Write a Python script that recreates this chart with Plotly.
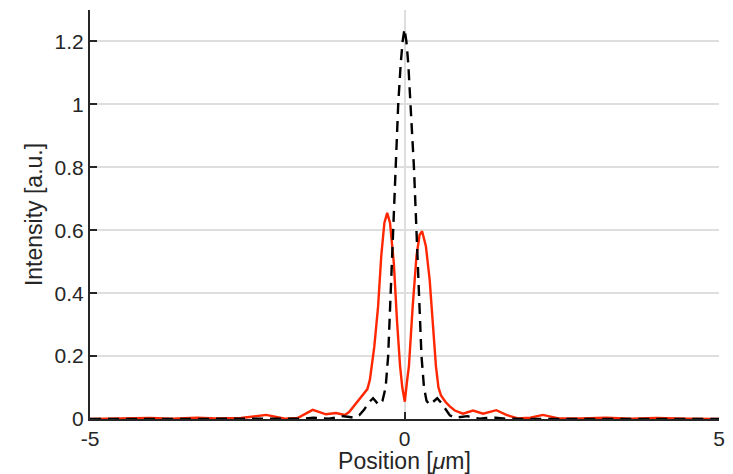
import plotly.graph_objects as go

# Red curve (solid)
red_x = [-5.0, -4.5, -4.05, -3.7, -3.3, -3.0, -2.6, -2.2, -1.9, -1.7, -1.55, -1.46, -1.35, -1.25,
         -1.09, -0.95, -0.88, -0.80, -0.72, -0.64, -0.59, -0.55, -0.52, -0.48, -0.42, -0.37, -0.32,
         -0.275, -0.23, -0.17, -0.12, -0.07, -0.035, 0.005, 0.04, 0.07, 0.13, 0.19, 0.24, 0.28, 0.34,
         0.40, 0.45, 0.50, 0.54, 0.58, 0.65, 0.72, 0.80, 0.93, 1.09, 1.25, 1.46, 1.62, 1.80, 2.0,
         2.2, 2.45, 2.8, 3.2, 3.6, 4.0, 4.5, 5.0]
red_y = [0.0, 0.001, 0.003, 0.001, 0.004, 0.002, 0.003, 0.013, 0.001, 0.003, 0.02, 0.029, 0.022, 0.015,
         0.019, 0.013, 0.022, 0.042, 0.065, 0.082, 0.095, 0.125, 0.17, 0.23, 0.357, 0.517, 0.623,
         0.655, 0.623, 0.496, 0.315, 0.167, 0.10, 0.055, 0.12, 0.167, 0.357, 0.517, 0.585, 0.597, 0.549,
         0.443, 0.305, 0.167, 0.10, 0.075, 0.055, 0.04, 0.027, 0.017, 0.027, 0.017, 0.028, 0.013, 0.002, 0.004,
         0.013, 0.002, 0.002, 0.004, 0.001, 0.003, 0.001, 0.0]

# Black curve (dashed)
black_x = [-5.0, -4.0, -3.0, -2.0, -1.6, -1.45, -1.3, -1.2, -1.1, -1.0, -0.9, -0.8, -0.72, -0.64,
           -0.57, -0.50, -0.44, -0.40, -0.35, -0.30, -0.26, -0.22, -0.18, -0.145, -0.10, -0.06, -0.03,
           0.0, 0.03, 0.06, 0.10, 0.15, 0.19, 0.23, 0.27, 0.31, 0.35, 0.40, 0.44, 0.52, 0.58, 0.65,
           0.72, 0.8, 0.9, 1.0, 1.1, 1.2, 1.3, 1.45, 1.6, 2.0, 3.0, 4.0, 5.0]
black_y = [0.0, 0.0, 0.0, 0.0, 0.001, 0.004, 0.003, 0.001, 0.004, 0.009, 0.007, 0.004, 0.012, 0.03,
           0.052, 0.066, 0.052, 0.045, 0.058, 0.10, 0.20, 0.40, 0.60, 0.80, 1.00, 1.13, 1.20,
           1.24, 1.20, 1.13, 1.00, 0.80, 0.60, 0.40, 0.20, 0.10, 0.058, 0.045, 0.052, 0.066, 0.052, 0.03,
           0.012, 0.004, 0.007, 0.009, 0.004, 0.001, 0.003, 0.004, 0.001, 0.0, 0.0, 0.0, 0.0]

x_ticks = [-5, 0, 5]
x_ticklabels = ["-5", "0", "5"]
y_ticks = [0, 0.2, 0.4, 0.6, 0.8, 1.0, 1.2]
y_ticklabels = ["0", "0.2", "0.4", "0.6", "0.8", "1", "1.2"]

TXT = "#262626"
FONT = "Liberation Sans, Arial, Helvetica, sans-serif"

fig = go.Figure()
fig.add_trace(go.Scatter(x=red_x, y=red_y, mode="lines",
                         line=dict(color="rgb(255,38,0)", width=2.4), showlegend=False))
fig.add_trace(go.Scatter(x=black_x, y=black_y, mode="lines",
                         line=dict(color="black", width=2.4, dash="11px,7px"), showlegend=False))

fig.update_layout(
    width=733, height=474,
    margin=dict(l=90, r=14, t=10, b=55),
    paper_bgcolor="white", plot_bgcolor="white",
    font=dict(family=FONT, color=TXT, size=21),
    xaxis=dict(range=[-5, 5], tickvals=x_ticks, ticktext=x_ticklabels,
               showgrid=True, gridcolor="#dedede", gridwidth=1.5, zeroline=False,
               showline=True, linecolor=TXT, linewidth=2, mirror=False,
               ticks="inside", ticklen=7, tickwidth=1.5, tickcolor=TXT,
               tickfont=dict(size=21, color=TXT), automargin=False,
               title=dict(text="Position [<i>μ</i>m]", font=dict(size=23, color=TXT), standoff=2)),
    yaxis=dict(range=[0, 1.3], tickvals=y_ticks, ticktext=y_ticklabels,
               showgrid=True, gridcolor="#dedede", gridwidth=1.5, zeroline=False,
               showline=True, linecolor=TXT, linewidth=2, mirror=False,
               ticks="inside", ticklen=7, tickwidth=1.5, tickcolor=TXT,
               tickfont=dict(size=21, color=TXT), automargin=False,
               title=dict(text="Intensity [a.u.]", font=dict(size=23, color=TXT), standoff=6)),
)

fig.write_html("out.html", config={"displayModeBar": False},
               post_script="document.body.style.margin='0';document.body.style.padding='0';")
